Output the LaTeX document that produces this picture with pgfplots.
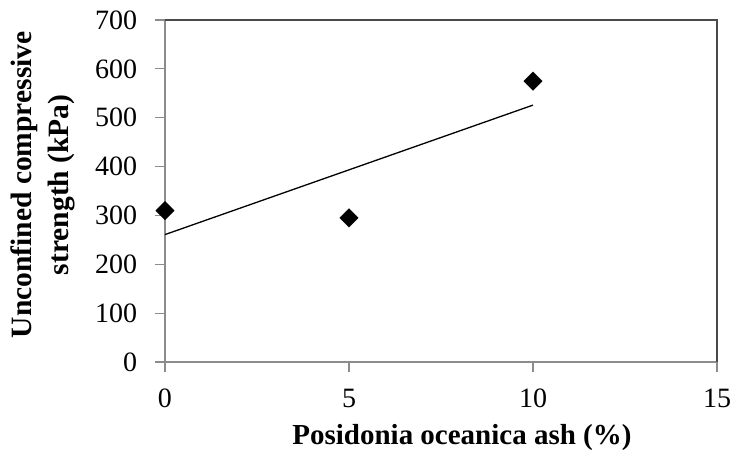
\documentclass[border=0pt]{standalone}
\usepackage{fontspec}
\setmainfont{Liberation Serif}
\usepackage{pgfplots}
\pgfplotsset{compat=1.18}
\definecolor{axisgray}{HTML}{8C8C8C}
\definecolor{framegray}{HTML}{4A4A4A}
\begin{document}
\fontsize{29pt}{35pt}\selectfont
\begin{tikzpicture}
\begin{axis}[
  at={(0,0)}, anchor=south west,
  scale only axis, width=552pt, height=342pt,
  xmin=0, xmax=15, ymin=0, ymax=700,
  xtick={0,5,10,15}, ytick={0,100,...,700},
  axis lines=left,
  axis line style={-, draw=axisgray, line width=1.2pt},
  tick align=outside, major tick length=10pt,
  tick style={draw=axisgray, line width=1.2pt},
  /pgf/number format/assume math mode=true,
  tick label style={font=\fontsize{28pt}{34pt}\selectfont},
  yticklabel style={xshift=-8pt},
  xticklabel style={yshift=-7pt},
  xlabel={\textbf{Posidonia oceanica ash (\%)}},
  ylabel={\textbf{Unconfined compressive}\\\textbf{strength (kPa)}},
  xlabel style={font=\fontsize{29pt}{35pt}\selectfont, at={(ticklabel cs:0.538)}, yshift=3pt},
  ylabel style={font=\fontsize{29.5pt}{37pt}\selectfont, align=center,
    at={(ticklabel cs:0.518)}, yshift=1pt},
  clip=false,
]
% outer frame: top and right edges
\draw[framegray, line width=1.3pt] (rel axis cs:0,1) -- (rel axis cs:1,1) -- (rel axis cs:1,0);
% linear trend line
\addplot[black, line width=1.3pt, no markers] coordinates {(0,260.8) (10,525.8)};
% measured values
\addplot[only marks, mark=square*, mark size=6.5pt, mark options={rotate=45, fill=black, draw=black}]
  coordinates {(0,310) (5,295) (10,575)};
\end{axis}
\pgfresetboundingbox
\path (-165pt,-93pt) rectangle (571pt,362pt);
\end{tikzpicture}
\end{document}
